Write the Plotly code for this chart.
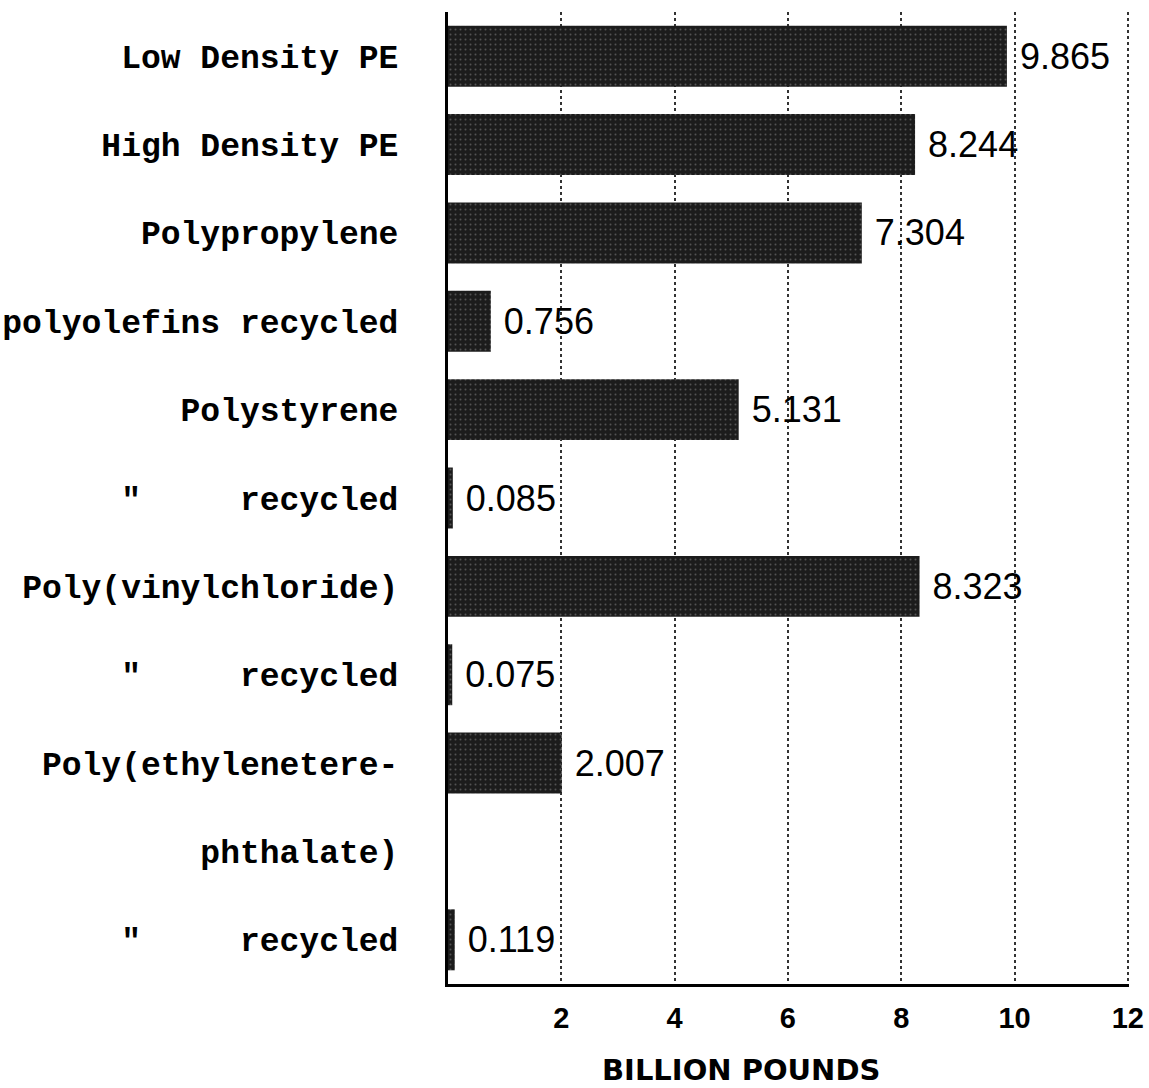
import plotly.graph_objects as go

NB = "\u00a0"
DITTO = "\u2033" + NB * 5 + "recycled"

categories = [
    "Low Density PE",
    "High Density PE",
    "Polypropylene",
    "polyolefins recycled",
    "Polystyrene",
    DITTO,
    "Poly(vinylchloride)",
    DITTO,
    "Poly(ethylenetere-",
    "phthalate)",
    DITTO,
]
values = [9.865, 8.244, 7.304, 0.756, 5.131, 0.085, 8.323, 0.075, 2.007, None, 0.119]
x_ticks = [2, 4, 6, 8, 10, 12]
x_title = "BILLION POUNDS"

positions = list(range(len(categories)))
texts = ["" if v is None else NB + f"{v:.3f}" for v in values]

fig = go.Figure(
    go.Bar(
        x=values,
        y=positions,
        orientation="h",
        text=texts,
        textposition="outside",
        cliponaxis=False,
        textfont=dict(family="Liberation Sans", size=36, color="black"),
        marker=dict(
            color="#1c1c1c",
            line=dict(width=0),
            pattern=dict(shape=".", fgcolor="#8a8a8a", bgcolor="#1c1c1c", size=5, solidity=0.12),
        ),
        showlegend=False,
    )
)

fig.update_layout(
    width=1149,
    height=1088,
    margin=dict(l=448, r=20, t=12, b=104),
    paper_bgcolor="white",
    plot_bgcolor="white",
    bargap=0.31,
    font=dict(family="Liberation Mono", color="black"),
    xaxis=dict(
        range=[0, 12.02],
        tickvals=x_ticks,
        ticktext=[str(t) for t in x_ticks],
        tickfont=dict(family="Liberation Sans", size=29, weight="bold", color="black"),
        showgrid=True,
        gridcolor="#333333",
        griddash="dot",
        gridwidth=1.5,
        showline=True,
        linecolor="black",
        linewidth=3,
        zeroline=False,
        ticks="",
        ticklabelstandoff=6,
        ticklabeloverflow="allow",
        automargin=False,
    ),
    yaxis=dict(
        range=[10.5, -0.5],
        tickvals=positions,
        ticktext=categories,
        tickfont=dict(family="Liberation Mono", size=33, weight="bold", color="black"),
        showgrid=False,
        showline=True,
        linecolor="black",
        linewidth=3,
        zeroline=False,
        ticks="",
        ticklabelstandoff=40,
        automargin=False,
    ),
    annotations=[
        dict(
            text=x_title,
            xref="paper",
            yref="paper",
            x=0.43,
            y=-0.088,
            xanchor="center",
            yanchor="middle",
            showarrow=False,
            font=dict(family="DejaVu Sans", size=29, weight="bold", color="black"),
        )
    ],
)

fig.write_html(
    "out.html",
    config={"displayModeBar": False},
    post_script="document.body.style.margin='0';document.body.style.overflow='hidden';",
)
